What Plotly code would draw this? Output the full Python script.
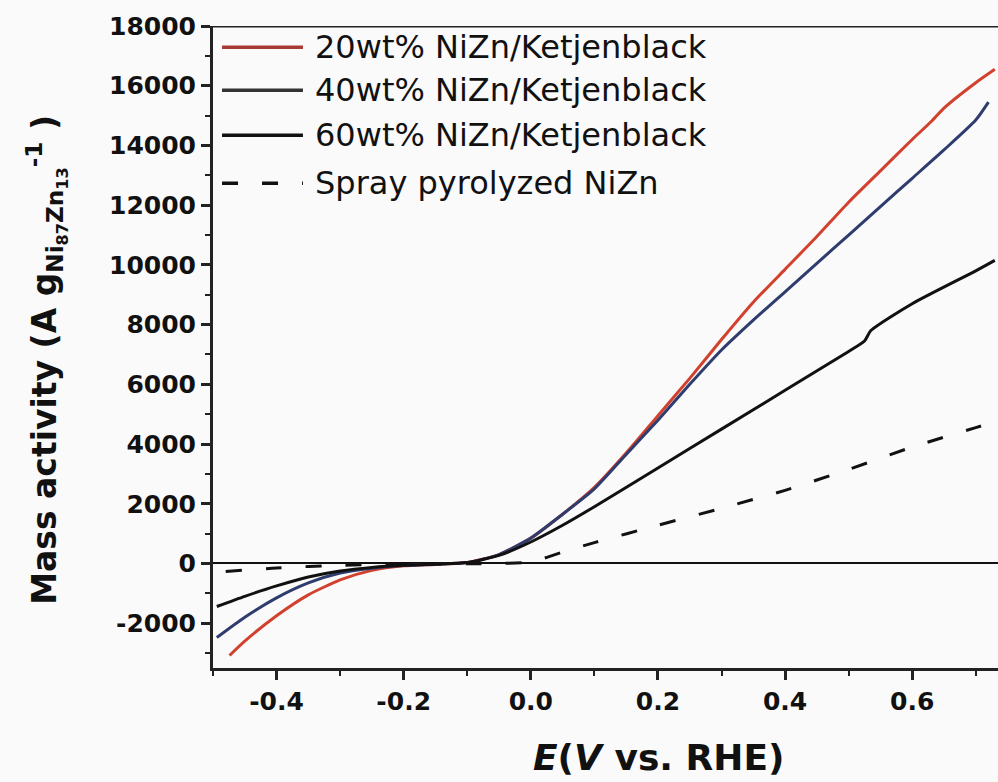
import plotly.graph_objects as go

# Potential (V vs. RHE) and mass activity (A g^-1) for each catalyst
e_20 = [-0.474, -0.45, -0.40, -0.35, -0.30, -0.25, -0.20, -0.15, -0.10, -0.05, 0.00, 0.05, 0.10, 0.15, 0.20,
        0.25, 0.30, 0.35, 0.40, 0.45, 0.50, 0.55, 0.60, 0.63, 0.65, 0.70, 0.73]
ma_20 = [-3080, -2600, -1750, -1050, -550, -230, -80, -30, 30, 300, 850, 1650, 2550, 3700, 4950,
         6200, 7500, 8750, 9850, 10950, 12100, 13150, 14200, 14800, 15250, 16100, 16550]

e_40 = [-0.494, -0.45, -0.40, -0.35, -0.30, -0.25, -0.20, -0.15, -0.10, -0.05, 0.00, 0.05, 0.10, 0.15, 0.20,
        0.25, 0.30, 0.35, 0.40, 0.45, 0.50, 0.55, 0.60, 0.65, 0.70, 0.72]
ma_40 = [-2480, -1800, -1150, -650, -320, -160, -70, -25, 30, 300, 850, 1650, 2500, 3650, 4800,
         6000, 7150, 8150, 9100, 10050, 11000, 11950, 12900, 13850, 14850, 15450]

e_60 = [-0.494, -0.45, -0.40, -0.35, -0.30, -0.25, -0.20, -0.15, -0.10, -0.05, 0.00, 0.05, 0.10, 0.20,
        0.30, 0.40, 0.50, 0.525, 0.535, 0.60, 0.70, 0.73]
ma_60 = [-1440, -1100, -750, -450, -250, -130, -60, -20, 30, 270, 720, 1280, 1900, 3200,
         4500, 5800, 7100, 7450, 7800, 8700, 9800, 10150]

e_sp = [-0.48, -0.40, -0.30, -0.20, -0.10, -0.05, 0.00, 0.05, 0.10, 0.20, 0.30, 0.40, 0.50, 0.60, 0.70, 0.73]
ma_sp = [-270, -150, -60, -20, -10, 0, 50, 380, 700, 1280, 1850, 2450, 3150, 3900, 4550, 4750]

labels = ["20wt% NiZn/Ketjenblack", "40wt% NiZn/Ketjenblack",
          "60wt% NiZn/Ketjenblack", "Spray pyrolyzed NiZn"]
colors = ["#d2412e", "#2e3c6e", "#111111", "#111111"]
dashes = ["solid", "solid", "solid", "16px,24px"]

x_ticks = [-0.4, -0.2, 0.0, 0.2, 0.4, 0.6]
y_ticks = [-2000, 0, 2000, 4000, 6000, 8000, 10000, 12000, 14000, 16000, 18000]

series = [(e_20, ma_20), (e_40, ma_40), (e_60, ma_60), (e_sp, ma_sp)]

fig = go.Figure()
for (xs, ys), name, col, dash in zip(series, labels, colors, dashes):
    fig.add_trace(go.Scatter(
        x=xs, y=ys, mode="lines", name=name,
        line=dict(color=col, width=3, dash=dash, shape="spline", smoothing=0.6),
        showlegend=False,
    ))

# Hand-placed legend with long line samples
legend_rows = [0.967, 0.900, 0.830, 0.755]
legend_cols = ["#a83a34", "#333333", "#111111", "#111111"]
for yy, name, col, dash in zip(legend_rows, labels, legend_cols, dashes):
    fig.add_shape(type="line", xref="paper", yref="paper",
                  x0=0.0115, x1=0.1146, y0=yy, y1=yy,
                  line=dict(color=col, width=3.5, dash=dash))
    fig.add_annotation(xref="paper", yref="paper", x=0.128, y=yy,
                       text=name, showarrow=False, xanchor="left", yanchor="middle",
                       font=dict(family="DejaVu Sans", size=32, color="#111"))

# Top frame line
fig.add_shape(type="line", xref="paper", yref="y", x0=0, x1=1, y0=18000, y1=18000,
              line=dict(color="#222", width=3))

fig.add_annotation(xref="paper", yref="paper", x=-0.2115, y=0.48, textangle=-90,
                   text="Mass activity (A g<sub>Ni<sub>87</sub>Zn<sub>13</sub></sub><sup>-1</sup> )",
                   showarrow=False, xanchor="center", yanchor="middle",
                   font=dict(family="DejaVu Sans", size=33, color="#111", weight="bold"))
fig.add_annotation(xref="paper", yref="paper", x=0.568, y=-0.14,
                   text="<i>E</i>(<i>V</i> vs. RHE)",
                   showarrow=False, xanchor="center", yanchor="middle",
                   font=dict(family="DejaVu Sans", size=36, color="#111", weight="bold"))

fig.update_xaxes(
    range=[-0.5, 0.735], tickvals=x_ticks, ticktext=[f"{v:.1f}" for v in x_ticks],
    ticks="outside", ticklen=9, tickwidth=2.5, tickcolor="#222",
    minor=dict(dtick=0.1, tick0=-0.5, ticks="outside", ticklen=5, tickwidth=2, tickcolor="#222"),
    showline=True, linecolor="#222", linewidth=3, showgrid=False, zeroline=False,
    tickfont=dict(family="DejaVu Sans", size=25, color="#111", weight="bold"),
)
fig.update_yaxes(
    range=[-3500, 18000], tickvals=y_ticks, ticktext=[str(v) for v in y_ticks],
    ticks="outside", ticklen=9, tickwidth=2.5, tickcolor="#222",
    minor=dict(dtick=1000, tick0=0, ticks="outside", ticklen=5, tickwidth=2, tickcolor="#222"),
    showline=True, linecolor="#222", linewidth=3, showgrid=False,
    zeroline=True, zerolinecolor="#111", zerolinewidth=2,
    tickfont=dict(family="DejaVu Sans", size=25, color="#111", weight="bold"),
)

fig.update_layout(
    width=998, height=782,
    margin=dict(l=213, r=0, t=26, b=114),
    paper_bgcolor="#fafafa", plot_bgcolor="#fafafa",
)

fig.write_html("out.html")
